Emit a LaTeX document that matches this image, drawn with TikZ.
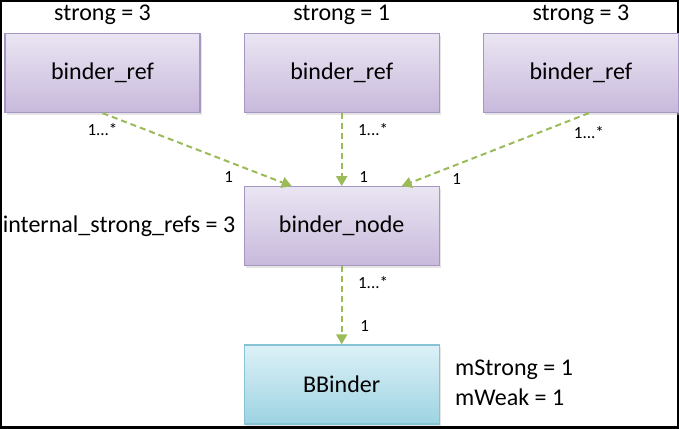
\documentclass[tikz,border=0pt]{standalone}
\usepackage{fontspec}
\setmainfont{Carlito}
\usetikzlibrary{positioning,arrows.meta,shadows}

\definecolor{refline}{HTML}{A696C4}
\definecolor{reftop}{HTML}{EAE5F2}
\definecolor{refbot}{HTML}{C8B9DC}
\definecolor{bbline}{HTML}{86C3D4}
\definecolor{bbtop}{HTML}{DDF1F7}
\definecolor{bbbot}{HTML}{9DD3E2}
\definecolor{linkgreen}{HTML}{9BBB59}

\tikzset{
  refbox/.style={draw=refline, line width=0.6pt, top color=reftop, bottom color=refbot,
    minimum width=97.5pt, minimum height=39.5pt, font=\fontsize{12}{14}\selectfont,
    drop shadow={shadow xshift=1pt, shadow yshift=-1pt, fill=black!20, opacity=0.5}},
  binderbox/.style={refbox, draw=bbline, top color=bbtop, bottom color=bbbot},
  link/.style={draw=linkgreen, line width=1pt, dash pattern=on 3pt off 2pt,
    -{Triangle[width=5.5pt,length=5pt]}},
  lbl/.style={inner sep=0pt, font=\fontsize{12}{14}\selectfont},
  mult/.style={inner sep=0pt, font=\fontsize{8.5}{10}\selectfont}
}

\begin{document}
\begin{tikzpicture}
\useasboundingbox (0,0) rectangle (339.5pt,-214pt);
\draw[line width=2pt] (0,0) rectangle (339.5pt,-214pt);

% boxes
\node[refbox] (refA) at (51.25pt,-36.5pt) {binder\_ref};
\node[refbox, right=21.5pt of refA] (refB) {binder\_ref};
\node[refbox, right=21.5pt of refB] (refC) {binder\_ref};
\node[refbox, below=36.5pt of refB] (bnode) {binder\_node};
\node[binderbox, below=39pt of bnode] (bbinder) {BBinder};

% counters
\node[lbl, above=4pt of refA] (strA) {strong = 3};
\node[lbl, above=4pt of refB] (strB) {strong = 1};
\node[lbl, above=4pt of refC] (strC) {strong = 3};
\node[lbl, left=4pt of bnode] (intref) {internal\_strong\_refs = 3};
\node[lbl, anchor=west] (mstrong) at ([xshift=7.5pt,yshift=7.5pt]bbinder.east) {mStrong = 1};
\node[lbl, anchor=west] (mweak) at ([xshift=7.5pt,yshift=-6.5pt]bbinder.east) {mWeak = 1};

% connectors
\coordinate (sA) at (refA.south);
\coordinate (sC) at ([xshift=4pt]refC.south);
\coordinate (eA) at ([xshift=-25pt]bnode.north);
\coordinate (eC) at ([xshift=30pt]bnode.north);
\draw[link] (sA) -- (eA);
\draw[link] (refB.south) -- (bnode.north);
\draw[link] (sC) -- (eC);
\draw[link] (bnode.south) -- (bbinder.north);

% multiplicities
\node[mult, below=5pt of sA] (mA) {1...*};
\node[mult, below right=5pt and 8pt of refB.south] (mB) {1...*};
\node[mult, below=6.5pt of sC] (mC) {1...*};
\node[mult] (oA) at ([shift={(-31.5pt,4.5pt)}]eA) {1};
\node[mult] (oB) at ([shift={(11pt,4.5pt)}]bnode.north) {1};
\node[mult] (oC) at ([shift={(27.5pt,3.5pt)}]eC) {1};
\node[mult, below right=5pt and 8pt of bnode.south] (mN) {1...*};
\node[mult] (oN) at ([shift={(11.5pt,9pt)}]bbinder.north) {1};
\end{tikzpicture}
\end{document}
